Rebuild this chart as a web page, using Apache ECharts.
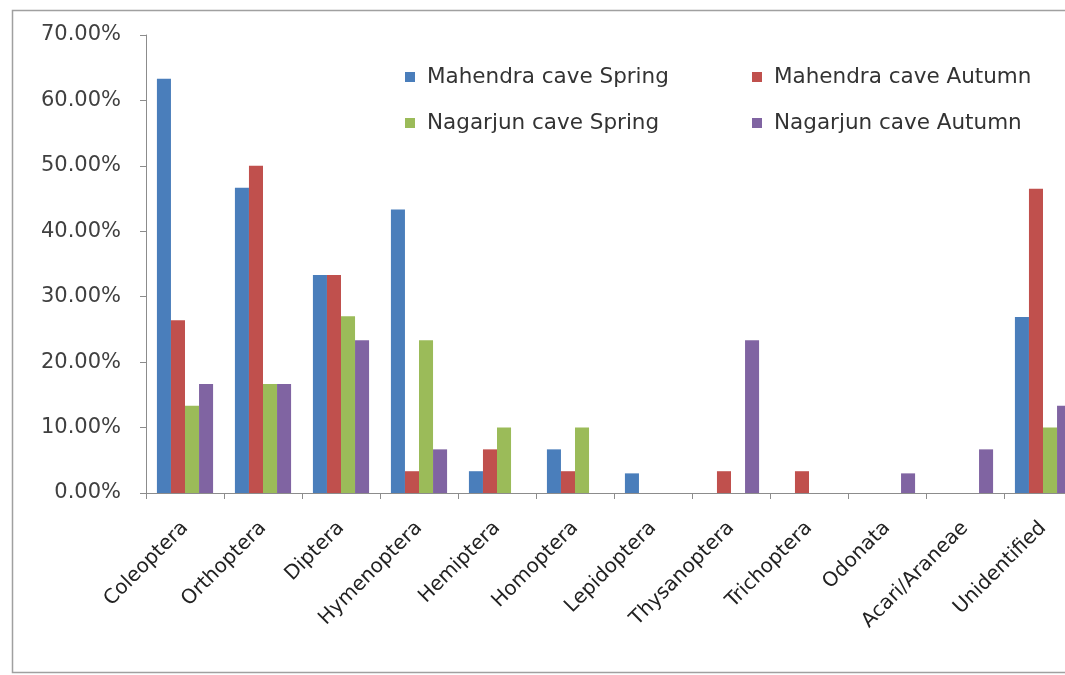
<!DOCTYPE html>
<html>
<head>
<meta charset="utf-8">
<script src="https://cdn.jsdelivr.net/npm/echarts@6/dist/echarts.min.js"></script>
<style>
  html, body { margin: 0; padding: 0; background: #ffffff; overflow: hidden; }
  #chart { width: 1100px; height: 675px; }
</style>
</head>
<body>
<div id="chart"></div>
<script>
// Insect orders recorded in the two caves (share of specimens, %)
const categories = ['Coleoptera', 'Orthoptera', 'Diptera', 'Hymenoptera', 'Hemiptera', 'Homoptera',
  'Lepidoptera', 'Thysanoptera', 'Trichoptera', 'Odonata', 'Acari/Araneae', 'Unidentified'];

const mahendraSpring = [63.33, 46.67, 33.33, 43.33, 3.33, 6.67, 3.0, 0, 0, 0, 0, 26.9];
const mahendraAutumn = [26.4, 50.0, 33.33, 3.33, 6.67, 3.33, 0, 3.33, 3.33, 0, 0, 46.5];
const nagarjunSpring = [13.33, 16.67, 27.0, 23.33, 10.0, 10.0, 0, 0, 0, 0, 0, 10.0];
const nagarjunAutumn = [16.67, 16.67, 23.33, 6.67, 0, 0, 0, 23.33, 0, 3.0, 6.67, 13.33];

const yTicks = [0, 10, 20, 30, 40, 50, 60, 70];

const seriesNames = ['Mahendra cave Spring', 'Mahendra cave Autumn', 'Nagarjun cave Spring', 'Nagarjun cave Autumn'];
const seriesData = [mahendraSpring, mahendraAutumn, nagarjunSpring, nagarjunAutumn];
const colors = ['#4a7ebb', '#c0504d', '#9bbb59', '#8064a2'];

const font = '"DejaVu Sans", Verdana, sans-serif';
const legendText = { fontFamily: font, fontSize: 21.5, lineHeight: 24, color: '#333333', padding: [0, 0, 0, 7] };

const chart = echarts.init(document.getElementById('chart'), null, { renderer: 'canvas' });

chart.setOption({
  backgroundColor: '#ffffff',
  animation: false,
  color: colors,
  graphic: [{
    type: 'rect',
    shape: { x: 12.5, y: 10.5, width: 1150, height: 662 },
    style: { fill: 'none', stroke: '#a0a0a0', lineWidth: 1.5 },
    z: -1
  }],
  legend: [
    {
      data: [seriesNames[0], seriesNames[2]],
      orient: 'vertical', left: 400, top: 60,
      icon: 'rect', itemWidth: 10, itemHeight: 10, itemGap: 22,
      textStyle: legendText
    },
    {
      data: [seriesNames[1], seriesNames[3]],
      orient: 'vertical', left: 747, top: 60,
      icon: 'rect', itemWidth: 10, itemHeight: 10, itemGap: 22,
      textStyle: legendText
    }
  ],
  grid: { left: 146, top: 35, width: 936, height: 458, containLabel: false },
  xAxis: {
    type: 'category',
    data: categories,
    axisLine: { lineStyle: { color: '#8c8c8c', width: 1 } },
    axisTick: { show: true, length: 6, alignWithLabel: false, lineStyle: { color: '#8c8c8c' } },
    axisLabel: {
      interval: 0, rotate: 45, margin: 32,
      fontFamily: font, fontSize: 20, color: '#222222'
    }
  },
  yAxis: {
    type: 'value',
    min: yTicks[0], max: yTicks[yTicks.length - 1], interval: 10,
    axisLine: { show: true, lineStyle: { color: '#8c8c8c', width: 1 } },
    axisTick: { show: true, length: 6, lineStyle: { color: '#8c8c8c' } },
    splitLine: { show: false },
    axisLabel: {
      margin: 25,
      fontFamily: font, fontSize: 21, color: '#404040',
      formatter: v => v.toFixed(2) + '%'
    }
  },
  series: seriesNames.map((name, i) => ({
    name: name,
    type: 'bar',
    data: seriesData[i],
    barGap: '0%',
    barCategoryGap: '28%',
    itemStyle: { color: colors[i] }
  }))
});
</script>
</body>
</html>
